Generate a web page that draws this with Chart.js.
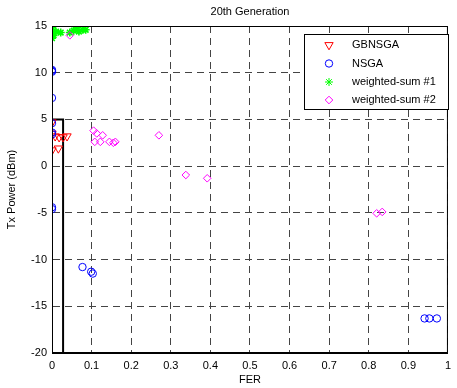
<!DOCTYPE html>
<html>
<head>
<meta charset="utf-8">
<script src="https://cdn.jsdelivr.net/npm/chart.js@4/dist/chart.umd.min.js"></script>
<style>
  html, body { margin: 0; padding: 0; background: #fff; }
  #wrap { width: 457px; height: 388px; }
</style>
</head>
<body>
<div id="wrap"><canvas id="genChart"></canvas></div>
<script>
// values
const xTicks = [0, 0.1, 0.2, 0.3, 0.4, 0.5, 0.6, 0.7, 0.8, 0.9, 1];
const yTicks = [-20, -15, -10, -5, 0, 5, 10, 15];

const gbX = [0, 0, 0.008, 0.018, 0.028, 0.038, 0, 0.016];
const gbY = [4.7, 3.5, 3.2, 3.1, 3.1, 3.2, 1.7, 1.9];

const nsX = [0, 0, 0, 0, 0, 0, 0, 0, 0, 0.077, 0.099, 0.103, 0.941, 0.953, 0.972];
const nsY = [10.1, 10.3, 10.2, 7.3, 4.6, 3.6, 3.4, -4.4, -4.6, -10.8, -11.3, -11.5, -16.3, -16.3, -16.3];

const ws1X = [0, 0, 0, 0.004, 0.01, 0.022, 0.045, 0.055, 0.062, 0.068, 0.078, 0.085];
const ws1Y = [14.8, 14.3, 13.7, 14.0, 14.4, 14.3, 14.3, 14.5, 14.8, 14.4, 14.6, 14.6];

const ws2X = [0.045, 0.105, 0.113, 0.128, 0.108, 0.122, 0.145, 0.155, 0.16, 0.27, 0.338, 0.392, 0.82, 0.834];
const ws2Y = [14.0, 3.8, 3.5, 3.3, 2.6, 2.6, 2.6, 2.5, 2.6, 3.3, -0.95, -1.3, -5.05, -4.9];

const stepX = [0, 0, 0.028, 0.028];
const stepY = [15, 5, 5, -20];

const FONT = 'Liberation Sans, Arial, Helvetica, sans-serif';

const toPoints = (xs, ys) => xs.map((x, i) => ({ x, y: ys[i] }));

const markerSets = [
    { label: 'GBNSGA', xs: gbX, ys: gbY, color: '#ff0000', pointStyle: 'triangle', rotation: 180, radius: 4.8, width: 1, order: 4 },
    { label: 'NSGA', xs: nsX, ys: nsY, color: '#0000ff', pointStyle: 'circle', rotation: 0, radius: 3.7, width: 1, order: 3 },
    { label: 'weighted-sum #1', xs: ws1X, ys: ws1Y, color: '#00ff00', pointStyle: 'star', rotation: 0, radius: 4, width: 1.6, order: 2 },
    { label: 'weighted-sum #2', xs: ws2X, ys: ws2Y, color: '#ff00ff', pointStyle: 'rectRot', rotation: 0, radius: 3.8, width: 1, order: 1 },
];

const datasets = markerSets.map((s) => ({
    label: s.label,
    data: toPoints(s.xs, s.ys),
    showLine: false,
    pointStyle: s.pointStyle,
    rotation: s.rotation,
    pointRadius: s.radius,
    pointBorderWidth: s.width,
    pointBorderColor: s.color,
    pointBackgroundColor: 'rgba(0,0,0,0)',
    order: s.order,
}));

datasets.push({
    label: 'limit',
    data: toPoints(stepX, stepY),
    showLine: true,
    borderColor: '#000',
    borderWidth: 2,
    pointRadius: 0,
    order: 5,
});

// frame, title and in-plot legend, drawn the matlab way
const matlabFrame = {
    id: 'matlabFrame',
    afterDraw(chart) {
        const { ctx, chartArea: a } = chart;
        ctx.save();
        ctx.strokeStyle = '#000';
        ctx.lineWidth = 1;
        ctx.strokeRect(a.left + 0.5, a.top + 0.5, a.right - a.left - 1, a.bottom - a.top - 1);

        ctx.fillStyle = '#000';
        ctx.font = '11px ' + FONT;
        ctx.textAlign = 'center';
        ctx.textBaseline = 'middle';
        ctx.fillText('20th Generation', (a.left + a.right) / 2, 12);

        // legend box
        const bx = 304, by = 34, bw = 144, bh = 75;
        ctx.fillStyle = '#fff';
        ctx.fillRect(bx, by, bw, bh);
        ctx.strokeRect(bx + 0.5, by + 0.5, bw, bh);

        const rowY = [45, 63.5, 82, 100];
        markerSets.forEach((s, i) => {
            ctx.strokeStyle = s.color;
            ctx.fillStyle = 'rgba(0,0,0,0)';
            Chart.helpers.drawPoint(ctx, {
                pointStyle: s.pointStyle,
                rotation: s.rotation,
                radius: s.radius,
                borderWidth: s.width,
            }, 329, rowY[i]);
            ctx.fillStyle = '#000';
            ctx.textAlign = 'left';
            ctx.fillText(s.label, 352, rowY[i]);
        });
        ctx.restore();
    },
};

const gridStyle = { color: '#444', lineWidth: 1, drawTicks: false };

new Chart(document.getElementById('genChart'), {
    type: 'scatter',
    data: { datasets },
    options: {
        responsive: true,
        maintainAspectRatio: false,
        animation: false,
        layout: { padding: { top: 26, right: 1, left: 0, bottom: 0 } },
        plugins: {
            legend: { display: false },
            tooltip: { enabled: false },
        },
        scales: {
            x: {
                type: 'linear',
                min: 0,
                max: 1,
                afterBuildTicks: (scale) => { scale.ticks = xTicks.map((v) => ({ value: v })); },
                afterFit: (scale) => { scale.height = 35; },
                grid: gridStyle,
                border: { display: true, color: '#000', width: 1, dash: [7, 5] },
                ticks: {
                    color: '#000',
                    padding: 6,
                    maxRotation: 0,
                    font: { family: FONT, size: 11 },
                    callback: (v) => String(Math.round(v * 10) / 10),
                },
                title: {
                    display: true,
                    text: 'FER',
                    color: '#000',
                    padding: { top: 0, bottom: 1 },
                    font: { family: FONT, size: 11 },
                },
            },
            y: {
                type: 'linear',
                min: -20,
                max: 15,
                afterBuildTicks: (scale) => { scale.ticks = yTicks.map((v) => ({ value: v })); },
                afterFit: (scale) => { scale.width = 52; },
                grid: gridStyle,
                border: { display: true, color: '#000', width: 1, dash: [7, 5] },
                ticks: {
                    color: '#000',
                    padding: 5,
                    font: { family: FONT, size: 11 },
                },
                title: {
                    display: true,
                    text: 'Tx Power (dBm)',
                    color: '#000',
                    padding: { top: 5, bottom: 0 },
                    font: { family: FONT, size: 11 },
                },
            },
        },
    },
    plugins: [matlabFrame],
});
</script>
</body>
</html>
